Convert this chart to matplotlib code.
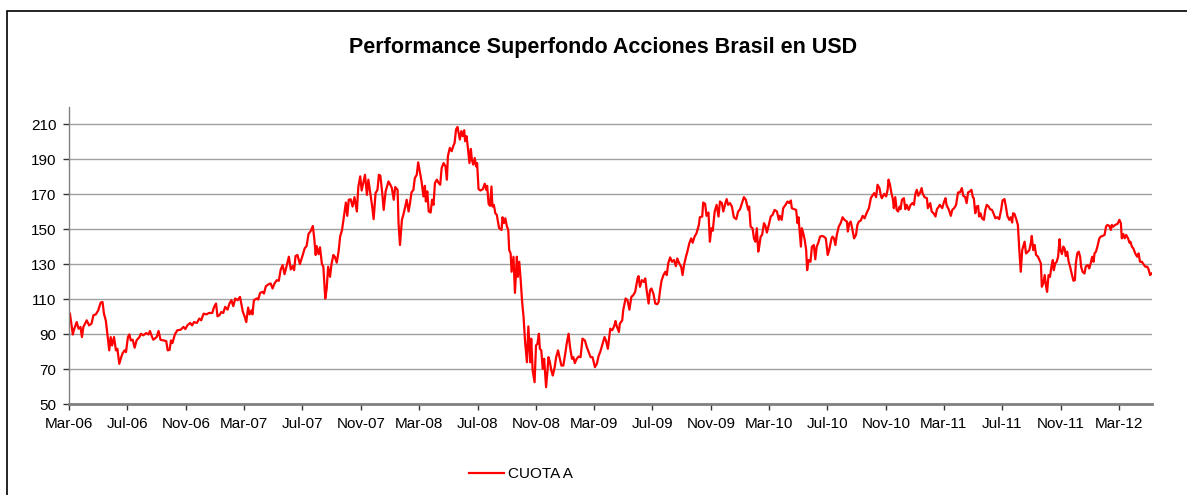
import pandas as pd
import matplotlib
matplotlib.use('Agg')
import matplotlib.pyplot as plt
import matplotlib.dates as mdates
from matplotlib.patches import Rectangle

plt.rcParams['font.family'] = ['Liberation Sans', 'DejaVu Sans']

# dias desde el 01-03-2006 y valor cuota (USD, base 100)
BASE = pd.Timestamp('2006-03-01')

days = [
    2, 8, 10, 16, 20, 24, 27, 30, 37, 42, 47, 51, 56, 61, 66, 70, 73, 77, 80, 84,
    87, 90, 94, 98, 101, 105, 109, 112, 116, 119, 123, 126, 129, 133, 137, 141, 147, 150, 155, 161,
    166, 169, 173, 176, 183, 187, 191, 197, 203, 206, 210, 213, 216, 221, 226, 233, 239, 243, 247, 253,
    257, 261, 267, 272, 276, 281, 287, 292, 299, 303, 307, 310, 314, 318, 322, 326, 331, 335, 339, 343,
    347, 352,
    357, 363, 367, 370, 374, 377, 381, 383, 386, 392, 395, 399, 404, 407, 411, 417, 421, 425, 429, 434,
    438, 442, 446, 450, 454, 459, 463, 467, 470, 473, 477, 482, 488, 492, 496, 500, 505, 509, 512, 515,
    517, 521, 524, 528, 531, 535, 538, 541, 545, 548, 552, 555, 559, 563, 566, 570, 574, 578, 581, 584,
    588, 592, 596, 601, 604, 608, 611, 615, 618, 622, 625, 628, 633, 636, 640, 644, 647, 650, 654, 657,
    661, 664, 667, 672, 674, 678, 681, 686, 688, 691, 695, 698, 702, 705, 709, 712, 715, 719, 722, 726,
    729,
    733, 736, 740, 743, 745, 748, 751, 755, 758, 761, 764, 768, 771, 775, 778, 782, 786, 789, 791, 795,
    799, 802, 805, 808, 811, 814, 816, 819, 822, 825, 827, 830, 833, 836, 839, 841, 844, 847, 850, 852,
    855, 859, 864, 868, 871, 873, 876, 879, 882, 884, 887, 890, 893, 896, 898, 903, 905, 908, 911, 914,
    917, 919, 922, 924, 928, 931, 935, 937, 940, 943, 946, 949, 952, 956, 959, 963, 965, 968, 972, 975,
    978, 981, 983, 986, 989, 992, 996, 999, 1001, 1004, 1007, 1010, 1014, 1017, 1021, 1024, 1028, 1032, 1036, 1039,
    1043, 1046, 1050, 1053, 1056, 1060, 1064, 1068, 1072, 1077, 1081, 1085, 1089, 1093, 1098, 1102, 1106,
    1109, 1114, 1118, 1121, 1125, 1130, 1134, 1138, 1141, 1143, 1148, 1150, 1155, 1157, 1162, 1166, 1170, 1174, 1178, 1182,
    1187, 1189, 1192, 1196, 1200, 1203, 1206, 1210, 1213, 1216, 1220, 1224, 1228, 1231, 1234, 1237, 1241, 1245, 1248, 1251,
    1255, 1259, 1263, 1267, 1270, 1274, 1278, 1281, 1284, 1288, 1291, 1295, 1299, 1302, 1306, 1310, 1315, 1317, 1322, 1324,
    1328, 1331, 1335, 1338, 1341, 1344, 1348, 1352, 1356, 1359, 1363, 1366, 1370, 1373, 1376, 1380, 1384, 1388, 1393, 1397,
    1401, 1405, 1409, 1413, 1418, 1420, 1423, 1427, 1430, 1433, 1436, 1439, 1441, 1444, 1447, 1451, 1454, 1457, 1461, 1465,
    1469, 1473, 1478, 1482,
    1484, 1488, 1491, 1496, 1500, 1504, 1507, 1509, 1514, 1518, 1521, 1523, 1528, 1530, 1533, 1536, 1539, 1541, 1544, 1548,
    1551, 1555, 1558, 1561, 1564, 1568, 1572, 1576, 1580, 1584, 1587, 1592, 1594, 1597, 1600, 1603, 1607, 1611, 1615, 1619,
    1624, 1626, 1629, 1632, 1635, 1639, 1643, 1646, 1649, 1653, 1657, 1661, 1665, 1670, 1674, 1677, 1681, 1685, 1688, 1692,
    1695, 1697, 1702, 1706, 1709, 1711, 1714, 1717, 1720, 1722, 1725, 1728, 1731, 1734, 1736, 1739, 1743, 1746, 1749, 1753,
    1757, 1761, 1764, 1767, 1770, 1773, 1777, 1780, 1782, 1786, 1791, 1793, 1798, 1801, 1805, 1809, 1812, 1816, 1818, 1823,
    1827, 1830, 1832, 1837, 1841, 1844, 1848, 1852, 1856,
    1860, 1864, 1867, 1871, 1874, 1877, 1881, 1884, 1887, 1889, 1892, 1895, 1898, 1900, 1903, 1906, 1910, 1913, 1916, 1920,
    1923, 1927, 1930, 1934, 1938, 1942, 1946, 1949, 1953, 1956, 1959, 1963, 1966, 1969, 1971, 1974, 1978, 1981, 1984, 1987,
    1990, 1992, 1995, 1998, 2002, 2005, 2008, 2010, 2013, 2016, 2019, 2023, 2026, 2029, 2031, 2034, 2037, 2040, 2042, 2045,
    2048, 2051, 2054, 2056, 2059, 2062, 2065, 2068, 2070, 2073, 2076, 2079, 2081, 2084, 2087, 2090, 2094, 2097, 2100, 2102,
    2105, 2108, 2111, 2113, 2116, 2120, 2123, 2127, 2130, 2133, 2136, 2139, 2141, 2144, 2147, 2151, 2154, 2158, 2162, 2165,
    2168, 2172, 2175, 2177, 2180, 2184, 2189, 2193, 2196, 2198, 2201, 2204, 2207, 2211, 2214, 2216, 2219, 2222, 2226, 2230,
    2233, 2236, 2240, 2243, 2247, 2251, 2254, 2257, 2260,
]

cuota_a = [
    101.7, 89.8, 92.2, 96.9, 93.1, 94.1, 88.3, 94.1, 97.9, 95.0, 96.0, 100.8, 101.3, 103.6, 108.0, 108.4, 101.7, 97.5, 90.2, 80.7,
    88.3, 83.5, 88.3, 80.7, 81.6, 73.0, 76.8, 79.1, 80.7, 79.7, 88.3, 89.8, 86.4, 86.8, 82.2, 86.4, 88.3, 90.2, 89.3, 90.6,
    89.8, 91.8, 88.7, 86.8, 88.3, 91.8, 86.8, 86.4, 86.0, 80.7, 81.0, 86.4, 84.9, 89.8, 92.2, 92.5, 94.1, 92.9, 95.0, 96.4,
    95.0, 96.9, 96.4, 98.9, 97.9, 101.7, 101.3, 102.1, 102.1, 105.6, 107.5, 100.2, 100.8, 102.7, 102.1, 105.6, 104.0, 107.5, 109.4, 106.0,
    110.4, 109.4,
    111.3, 102.7, 99.8, 96.9, 105.2, 101.3, 103.6, 101.3, 109.4, 110.4, 109.8, 113.6, 114.2, 113.2, 117.4, 118.6, 119.0, 116.1, 119.0, 120.9,
    120.5, 127.0, 129.5, 124.3, 128.6, 134.3, 127.0, 128.9, 126.6, 134.7, 135.3, 130.1, 135.3, 139.1, 140.4, 147.3, 149.2, 151.9, 144.8, 135.3,
    140.4, 135.8, 139.7, 130.1, 128.6, 110.4, 116.1, 128.6, 122.8, 130.1, 135.3, 134.3, 130.9, 137.7, 145.8, 149.6, 157.3, 165.3, 157.7, 166.9,
    167.2, 163.0, 168.4, 160.2, 174.2, 180.3, 172.2, 177.4, 181.2, 169.7, 178.4, 172.6, 163.0, 155.8, 170.7, 172.6, 181.2, 180.7, 170.7, 161.1,
    171.7, 174.5, 177.4, 174.9, 173.6, 166.9, 174.2, 172.6, 153.5, 141.0, 155.4, 158.3, 163.0, 166.9, 160.2, 165.0, 171.1, 172.6, 179.3, 181.2,
    188.3,
    182.2, 177.4, 168.8, 174.9, 165.9, 171.7, 160.2, 159.6, 166.9, 164.0, 176.5, 178.4, 176.8, 175.5, 185.1, 187.9, 186.0, 178.4, 191.8, 196.6,
    194.7, 197.5, 199.4, 207.1, 208.6, 204.2, 201.4, 206.2, 203.3, 206.7, 200.4, 203.3, 196.0, 187.9, 196.0, 189.9, 187.0, 190.8, 186.0, 187.9,
    173.0, 172.2, 173.0, 176.1, 172.6, 174.9, 164.6, 163.4, 174.5, 163.0, 164.0, 159.2, 158.3, 153.5, 150.6, 149.6, 156.9, 153.5, 156.3, 151.9,
    149.6, 138.1, 136.2, 125.7, 134.3, 113.6, 134.3, 122.8, 131.4, 120.9, 108.4, 99.8, 86.4, 73.9, 94.4, 73.9, 87.4, 69.2, 62.5, 83.5,
    84.5, 90.2, 81.6, 80.7, 70.1, 75.9, 59.6, 69.2, 76.8, 73.9, 69.2, 66.3, 71.1, 76.8, 80.7, 76.8, 72.0, 72.0, 78.7, 84.5,
    90.2, 82.6, 75.9, 76.8, 73.4, 75.9, 77.2, 76.8, 87.4, 86.4, 82.6, 79.7, 76.8, 76.8, 71.1, 73.0, 77.8,
    79.7, 84.5, 88.3, 86.4, 81.6, 93.1, 92.2, 94.4, 97.5, 95.0, 91.2, 96.0, 97.9, 103.6, 110.4, 109.4, 104.0, 111.3, 112.3, 114.2,
    121.9, 123.2, 117.1, 120.9, 119.9, 121.9, 115.1, 107.5, 115.1, 116.1, 113.2, 107.5, 107.1, 108.4, 115.1, 120.5, 123.8, 125.7, 123.8, 130.5,
    133.9, 131.4, 132.4, 128.9, 133.3, 130.5, 128.6, 123.8, 129.5, 134.3, 137.2, 142.0, 144.8, 142.3, 145.8, 147.7, 152.5, 156.9, 157.3, 165.3,
    164.6, 157.7, 159.6, 142.9, 150.6, 149.2, 160.2, 164.0, 157.3, 165.9, 165.0, 160.2, 164.6, 167.3, 164.0, 165.0, 163.0, 156.9, 155.8, 160.2,
    161.5, 165.0, 168.4, 166.9, 161.1, 163.0, 151.5, 150.6, 144.8, 142.9, 150.6, 137.2, 140.1, 145.8, 146.8, 153.5, 151.9, 148.1, 152.5, 157.3,
    158.3, 161.1, 160.2, 155.4,
    157.7, 155.4, 162.1, 164.0, 165.9, 165.0, 166.5, 162.1, 161.5, 161.1, 153.5, 156.9, 140.1, 150.6, 147.7, 143.9, 138.1, 126.6, 132.4, 131.4,
    140.1, 141.0, 132.8, 140.1, 142.0, 145.8, 146.2, 145.8, 144.8, 135.3, 138.1, 144.8, 145.8, 144.8, 141.0, 146.8, 151.5, 153.5, 156.9, 155.4,
    154.4, 148.7, 153.5, 154.4, 150.6, 144.8, 146.8, 152.5, 154.4, 155.0, 157.7, 156.3, 159.2, 162.1, 167.8, 169.2, 170.7, 168.4, 175.5, 173.6,
    169.2, 167.8, 170.3, 168.8, 172.6, 178.4, 175.5, 170.7, 167.3, 162.1, 168.4, 161.1, 160.2, 163.0, 161.5, 166.9, 167.8, 161.5, 164.0, 161.1,
    164.0, 165.0, 164.0, 170.3, 172.6, 169.2, 171.1, 173.6, 170.7, 168.4, 167.8, 162.1, 165.0, 160.2, 159.2, 157.3, 161.5, 163.0, 164.0, 162.1,
    165.9, 167.8, 164.0, 161.1, 157.7, 161.1, 162.1, 164.0, 171.1,
    171.1, 173.6, 169.2, 168.4, 165.0, 171.1, 171.7, 172.6, 168.4, 167.8, 159.2, 163.0, 163.4, 157.3, 159.2, 156.3, 155.4, 161.1, 164.0, 163.0,
    161.5, 161.1, 159.2, 156.3, 156.9, 155.8, 161.1, 166.5, 167.3, 163.0, 157.7, 155.4, 156.9, 153.9, 159.2, 158.8, 155.4, 152.5, 138.1, 125.7,
    138.1, 140.1, 142.9, 136.2, 137.2, 138.1, 142.0, 146.2, 138.1, 141.0, 135.3, 134.3, 132.4, 130.5, 117.1, 119.0, 123.8, 117.1, 114.2, 123.8,
    122.8, 128.6, 132.4, 126.6, 130.5, 131.4, 134.3, 144.3, 138.1, 135.8, 140.1, 138.5, 134.7, 137.2, 131.4, 128.6, 123.8, 120.5, 120.9, 130.5,
    136.2, 137.2, 134.3, 128.6, 125.7, 124.7, 128.9, 129.5, 127.6, 130.5, 134.3, 131.4, 136.2, 137.2, 140.1, 144.8, 145.8, 146.2, 146.8, 151.5,
    152.5, 151.9, 149.6, 152.5, 151.5, 152.5, 153.1, 155.4, 153.5, 144.8, 147.3, 144.8, 146.8, 144.8, 142.3, 142.9, 140.1, 139.1, 136.2, 134.3,
    136.2, 131.4, 131.4, 130.1, 128.6, 128.6, 127.0, 123.8, 124.7,
]

y_ticks = list(range(50, 211, 20))
x_ticks = pd.date_range('2006-03-01', '2012-03-01', freq='4MS')
title = 'Performance Superfondo Acciones Brasil en USD'

assert len(days) == len(cuota_a)
dates = BASE + pd.to_timedelta(days, unit='D')

fig = plt.figure(figsize=(11.87, 4.95), dpi=100)
W, H = 1187, 495
ax = fig.add_axes([69 / W, 1 - 404 / H, (1152 - 69) / W, (404 - 107) / H])

ax.plot(dates, cuota_a, color='#FF0000', lw=1.6, label='CUOTA A')

ax.set_xlim(BASE, BASE + pd.Timedelta(days=2261))
ax.set_ylim(50, 220)
ax.set_yticks(y_ticks)
ax.set_xticks(x_ticks)
ax.xaxis.set_major_formatter(mdates.DateFormatter('%b-%y'))

ax.yaxis.grid(True, color='#a0a0a0', lw=1)
ax.set_axisbelow(True)
for s in ['top', 'right']:
    ax.spines[s].set_visible(False)
ax.spines['left'].set_color('#808080')
ax.spines['left'].set_linewidth(1)
ax.spines['bottom'].set_color('#808080')
ax.spines['bottom'].set_linewidth(2)
ax.tick_params(axis='both', direction='out', length=4, width=1, color='#333333',
               labelsize=11, pad=5)

fig.text(603 / W, 1 - 47 / H, title, ha='center', va='center',
         fontsize=15.5, fontweight='bold')

fig.legend(loc='center', bbox_to_anchor=(521 / W, 1 - 474 / H), frameon=False,
           fontsize=11, handlelength=2.3, handletextpad=0.3)

# marco del grafico
fig.add_artist(Rectangle((7 / W, -0.1), 1.2, 1.1 - 11 / H, transform=fig.transFigure,
                         fill=False, ec='black', lw=1.2))

fig.savefig('out.png', dpi=100)
